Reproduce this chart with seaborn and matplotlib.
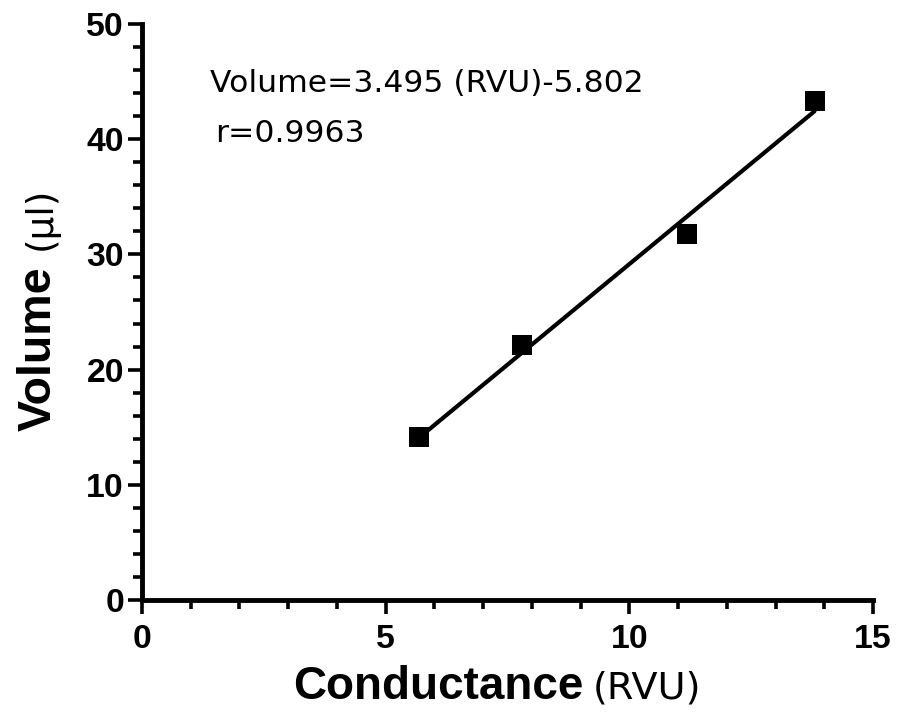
import numpy as np
import pandas as pd
import matplotlib
matplotlib.use("Agg")
import matplotlib.pyplot as plt
from matplotlib.ticker import MultipleLocator
import seaborn as sns

# ---- data ----
conductance = [5.69, 7.80, 11.19, 13.80]   # RVU
volume = [14.12, 22.11, 31.80, 43.29]      # µl
equation_text = "Volume=3.495 (RVU)-5.802"
r_text = "r=0.9963"
x_ticks = [0, 5, 10, 15]
y_ticks = [0, 10, 20, 30, 40, 50]

df = pd.DataFrame({"conductance": conductance, "volume": volume})

sns.set_style("ticks")
plt.rcParams["font.family"] = ["Liberation Sans", "DejaVu Sans"]
plt.rcParams["text.color"] = "black"
plt.rcParams["axes.labelcolor"] = "black"
plt.rcParams["xtick.color"] = "black"
plt.rcParams["ytick.color"] = "black"
plt.rcParams["axes.edgecolor"] = "black"

REG = ["DejaVu Sans"]  # wider regular face, closer to the reference's regular text

W, H = 898, 726
fig = plt.figure(figsize=(W / 100, H / 100), dpi=100)
ax = fig.add_axes([142 / W, 1 - 600 / H, (873 - 142) / W, (600 - 24) / H])

sns.regplot(data=df, x="conductance", y="volume", ax=ax, ci=None, truncate=True,
            marker="s", color="black",
            scatter_kws={"s": 225, "linewidths": 0, "alpha": 1, "clip_on": False},
            line_kws={"linewidth": 3.0, "color": "black"})

ax.set_xlim(0, 15)
ax.set_ylim(0, 50)
ax.set_xticks(x_ticks)
ax.set_yticks(y_ticks)
ax.xaxis.set_minor_locator(MultipleLocator(1))
ax.yaxis.set_minor_locator(MultipleLocator(2))
ax.set_xlabel("")
ax.set_ylabel("")

for s in ["top", "right"]:
    ax.spines[s].set_visible(False)
for s in ["left", "bottom"]:
    ax.spines[s].set_linewidth(3.5)
    ax.spines[s].set_color("black")

ax.tick_params(which="major", length=10, width=2.6, color="black", direction="out")
ax.tick_params(which="minor", length=6.5, width=2.6, color="black", direction="out")
ax.tick_params(axis="x", which="major", pad=7)
ax.tick_params(axis="y", which="major", pad=3)
for lbl in ax.get_xticklabels() + ax.get_yticklabels():
    lbl.set_fontsize(24.3)
    lbl.set_fontweight("bold")
    lbl.set_color("black")

# equation annotation
ax.text(1.40, 44.07, equation_text, fontsize=22.6, family=REG, ha="left", va="baseline")
ax.text(1.50, 39.78, r_text, fontsize=22.6, family=REG, ha="left", va="baseline")

# axis labels with mixed weight/size
fig.canvas.draw()
renderer = fig.canvas.get_renderer()

tx1 = fig.text(293 / W, 1 - 699 / H, "Conductance", fontsize=33, fontweight="bold",
               ha="left", va="baseline")
bbx = tx1.get_window_extent(renderer)
fig.text((bbx.x1 + 9) / W, 1 - 699 / H, "(RVU)", fontsize=27.5, family=REG,
         ha="left", va="baseline")

ty1 = fig.text(51 / W, 1 - 431 / H, "Volume", fontsize=33.5, fontweight="bold",
               rotation=90, rotation_mode="anchor", ha="left", va="baseline")
bb = ty1.get_window_extent(renderer)
fig.text(51 / W, (bb.y1 + 16) / H, "(µl)", fontsize=27, family=REG,
         rotation=90, rotation_mode="anchor", ha="left", va="baseline")

fig.savefig("out.png", dpi=100)
